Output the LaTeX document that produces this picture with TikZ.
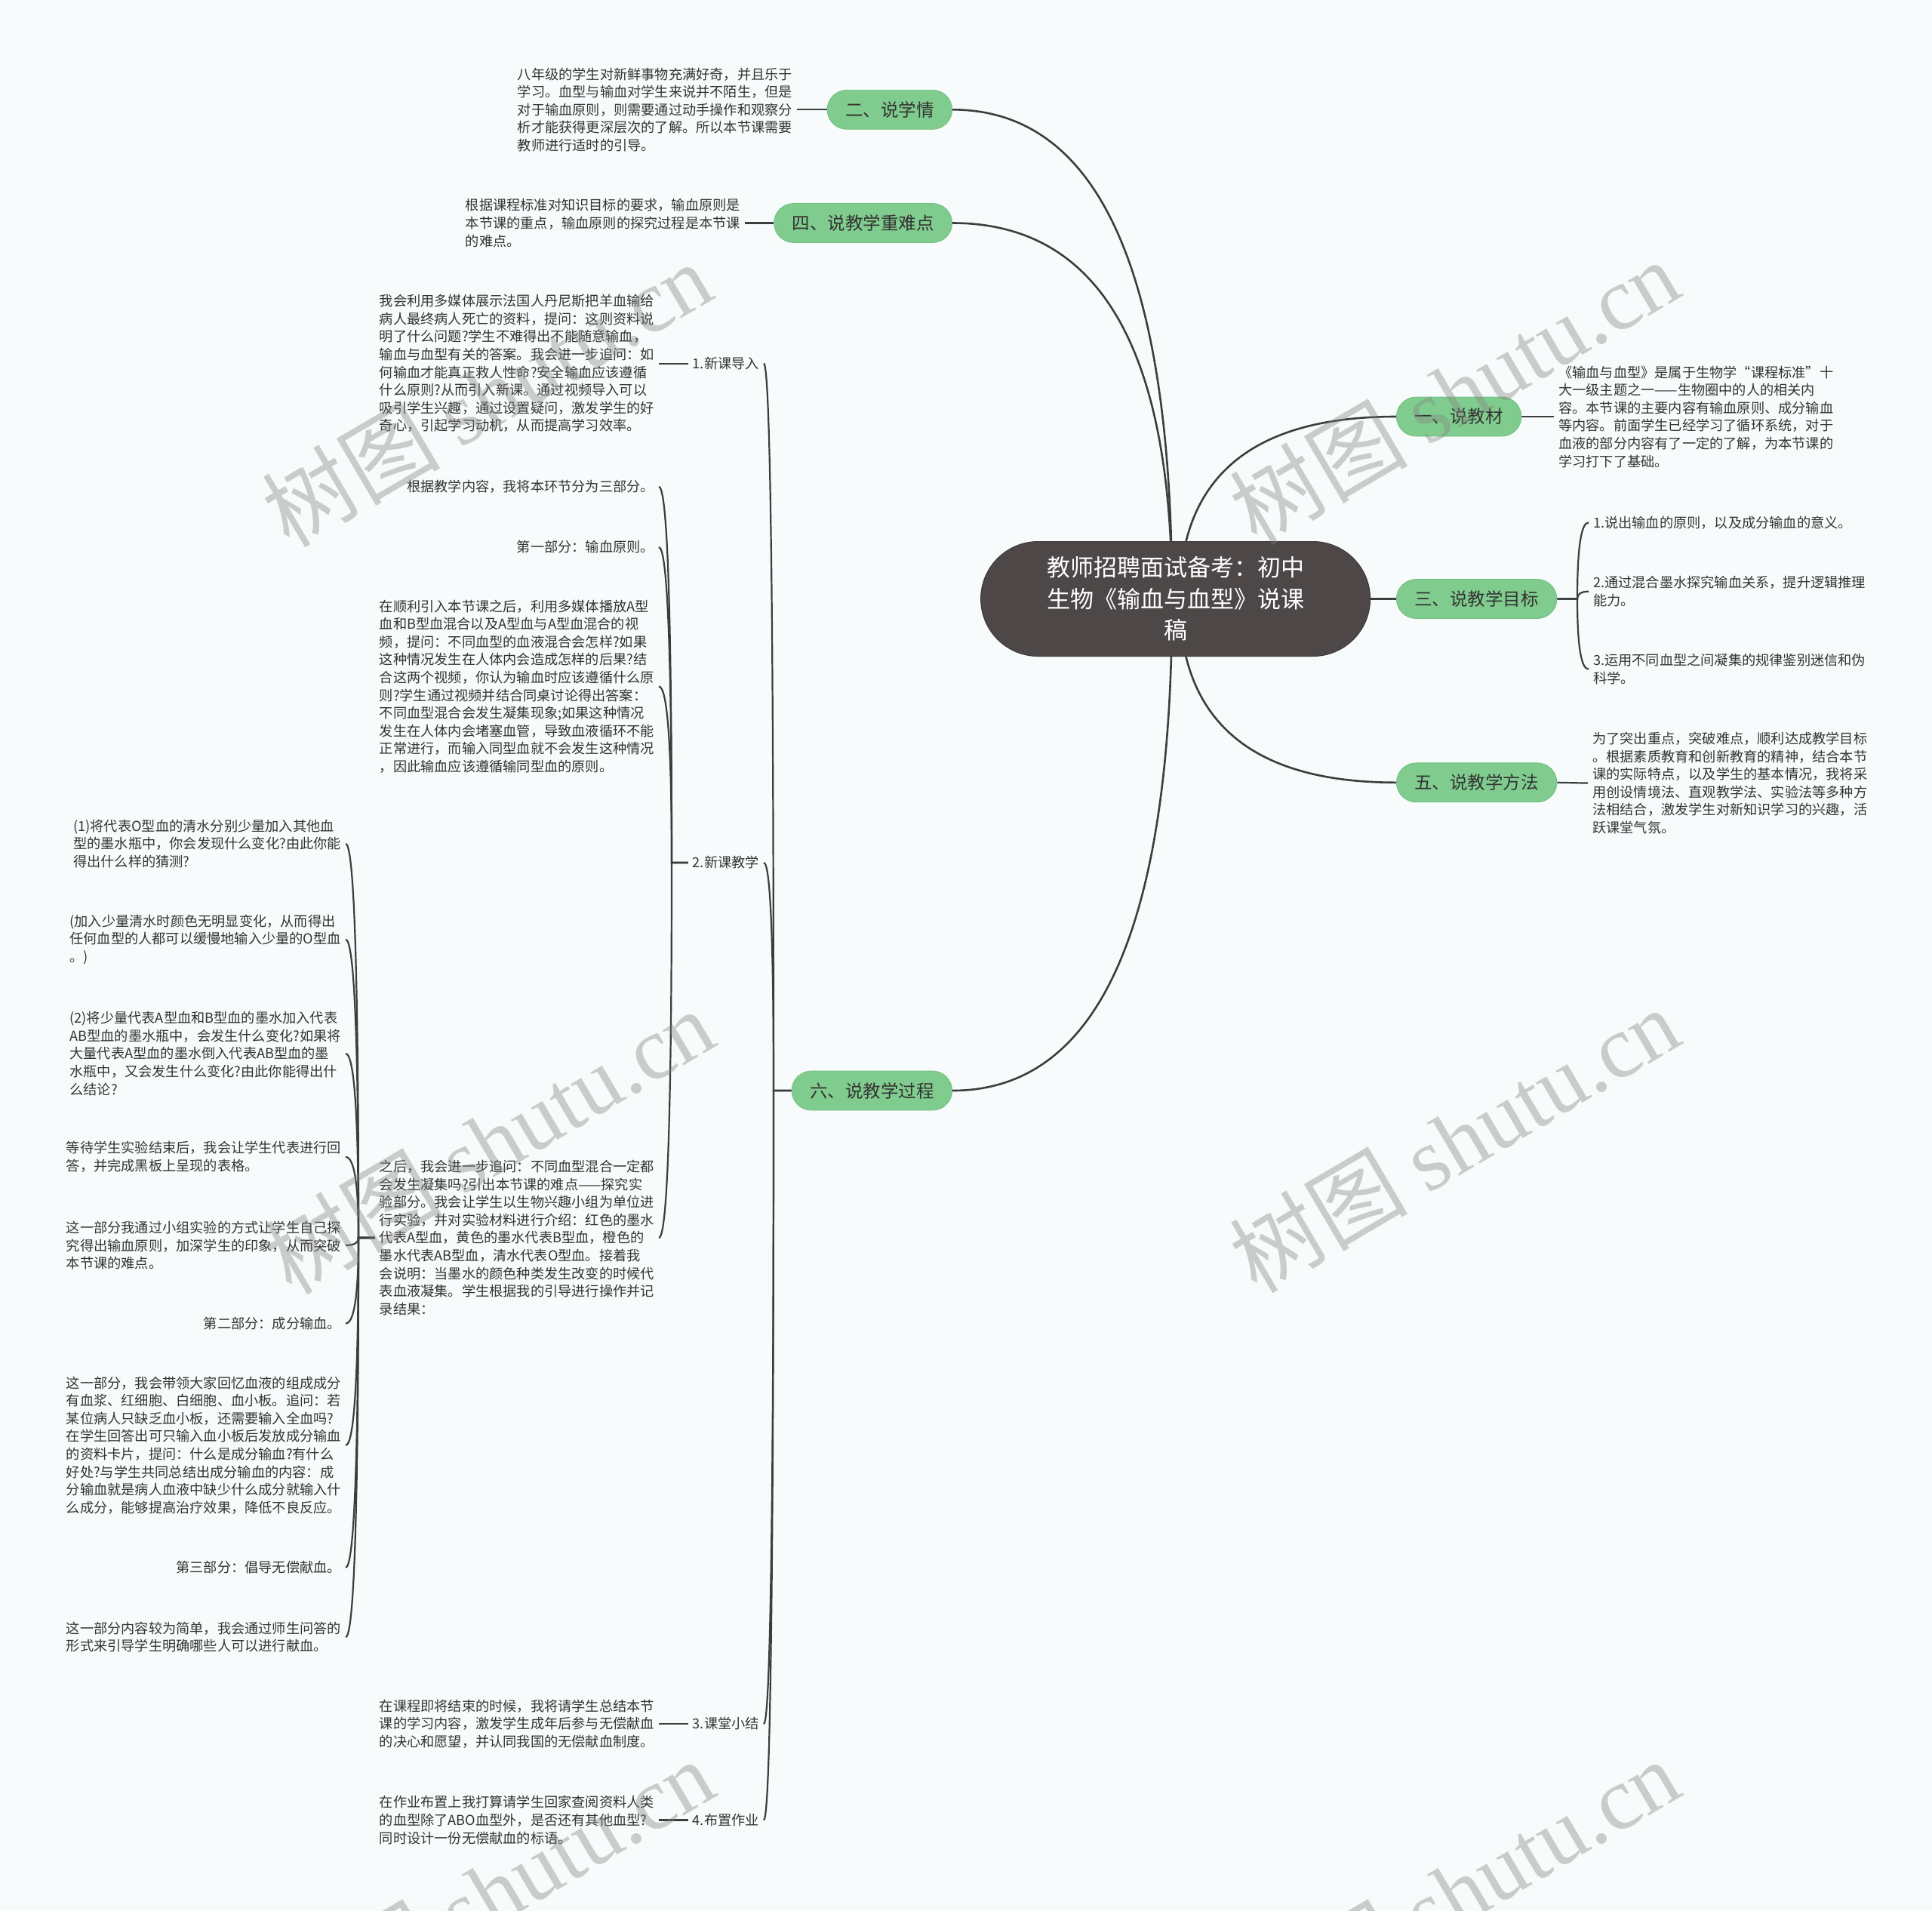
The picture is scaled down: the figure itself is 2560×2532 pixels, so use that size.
\documentclass[tikz,border=0pt]{standalone}
\usepackage{fontspec}
\setmainfont{Noto Sans CJK SC}
\newfontfamily\wmserif{Liberation Serif}
\usetikzlibrary{calc,backgrounds}
\definecolor{bgc}{HTML}{F8FBFC}
\definecolor{linec}{HTML}{3D3D3D}
\definecolor{txt}{HTML}{333333}
\definecolor{greenf}{HTML}{80CC8E}
\definecolor{greend}{HTML}{6FBF7E}
\definecolor{rootf}{HTML}{4D4847}
\definecolor{rootd}{HTML}{3E3A39}
\tikzset{
  qc/.style={to path={.. controls ($(\tikztostart)!0.667!(\tikztostart|-\tikztotarget)$) and ($(\tikztotarget)!0.667!(\tikztostart|-\tikztotarget)$) .. (\tikztotarget)}},
  topic/.style={rectangle, rounded corners=26pt, fill=greenf, draw=greend, line width=0.8pt,
    minimum height=52pt, inner xsep=24pt, inner ysep=0pt, text=txt, font=\fontsize{23.5}{28}\selectfont},
  note/.style={align=left, inner xsep=6pt, inner ysep=3pt, text=txt, font=\fontsize{18.2}{23.6}\selectfont},
  conn/.style={draw=linec, line width=2.2pt},
  mainc/.style={draw=linec, line width=2.6pt},
  wm/.style={text=gray, text opacity=0.38, rotate=30.5, inner sep=0pt, font=\fontsize{118}{130}\selectfont}
}
\begin{document}
\begin{tikzpicture}[x=1pt,y=-1pt]
\useasboundingbox (0,0) rectangle (2560,2532);

% root
\node[rectangle, rounded corners=76pt, minimum width=516pt, minimum height=152pt, fill=rootf, draw=rootd, line width=1pt,
  text=white, align=center, font=\fontsize{31}{41.5}\selectfont] (r) at (1557.6,793.5)
  {教师招聘面试备考：初中\\生物《输血与血型》说课\\稿};
\coordinate (sL) at (1553,793.5);
\coordinate (sR) at (1563,793.5);

% left main topics
\node[topic, anchor=east] (t2) at (1262,145.3) {二、说学情};
\node[topic, anchor=east] (t4) at (1262,295.5) {四、说教学重难点};
\node[topic, anchor=east] (t6) at (1262,1445) {六、说教学过程};

% right main topics
\node[topic, anchor=west] (t1) at (1850,552) {一、说教材};
\node[topic, anchor=west] (t3) at (1850,793.5) {三、说教学目标};
\node[topic, anchor=west] (t5) at (1850,1036.8) {五、说教学方法};

% notes of left topics
\node[note, anchor=east] (n2) at (1056,145.3) {八年级的学生对新鲜事物充满好奇，并且乐于\\学习。血型与输血对学生来说并不陌生，但是\\对于输血原则，则需要通过动手操作和观察分\\析才能获得更深层次的了解。所以本节课需要\\教师进行适时的引导。};
\node[note, anchor=east] (n4) at (987,295.5) {根据课程标准对知识目标的要求，输血原则是\\本节课的重点，输血原则的探究过程是本节课\\的难点。};

% right notes
\node[note, anchor=west] (n1) at (2059,552) {《输血与血型》是属于生物学“课程标准”十\\大一级主题之一——生物圈中的人的相关内\\容。本节课的主要内容有输血原则、成分输血\\等内容。前面学生已经学习了循环系统，对于\\血液的部分内容有了一定的了解，为本节课的\\学习打下了基础。};
\coordinate (b3) at (2090,793.5);
\node[note, anchor=west] (c31) at (2105,692.3) {1.说出输血的原则，以及成分输血的意义。};
\node[note, anchor=west] (c32) at (2105,783.7) {2.通过混合墨水探究输血关系，提升逻辑推理\\能力。};
\node[note, anchor=west] (c33) at (2105,886.6) {3.运用不同血型之间凝集的规律鉴别迷信和伪\\科学。};
\node[note, anchor=west] (n5) at (2104,1037.6) {为了突出重点，突破难点，顺利达成教学目标\\。根据素质教育和创新教育的精神，结合本节\\课的实际特点，以及学生的基本情况，我将采\\用创设情境法、直观教学法、实验法等多种方\\法相结合，激发学生对新知识学习的兴趣，活\\跃课堂气氛。};

% six: teaching process
\coordinate (b6) at (1025,1445);
\node[note, anchor=east] (L1) at (1012,481.6) {1.新课导入};
\node[note, anchor=east] (L2) at (1012,1143) {2.新课教学};
\node[note, anchor=east] (L3) at (1012,2284) {3.课堂小结};
\node[note, anchor=east] (L4) at (1012,2411.5) {4.布置作业};

\node[note, anchor=east] (n61) at (873,481.6) {我会利用多媒体展示法国人丹尼斯把羊血输给\\病人最终病人死亡的资料，提问：这则资料说\\明了什么问题?学生不难得出不能随意输血，\\输血与血型有关的答案。我会进一步追问：如\\何输血才能真正救人性命?安全输血应该遵循\\什么原则?从而引入新课。通过视频导入可以\\吸引学生兴趣，通过设置疑问，激发学生的好\\奇心，引起学习动机，从而提高学习效率。};
\node[note, anchor=east] (n63) at (873,2284) {在课程即将结束的时候，我将请学生总结本节\\课的学习内容，激发学生成年后参与无偿献血\\的决心和愿望，并认同我国的无偿献血制度。};
\node[note, anchor=east] (n64) at (873,2411.5) {在作业布置上我打算请学生回家查阅资料人类\\的血型除了ABO血型外，是否还有其他血型?\\同时设计一份无偿献血的标语。};

\coordinate (b2) at (890,1143);
\node[note, anchor=east] (ka) at (873,645) {根据教学内容，我将本环节分为三部分。};
\node[note, anchor=east] (kb) at (873,725) {第一部分：输血原则。};
\node[note, anchor=east] (kc) at (873,909.5) {在顺利引入本节课之后，利用多媒体播放A型\\血和B型血混合以及A型血与A型血混合的视\\频，提问：不同血型的血液混合会怎样?如果\\这种情况发生在人体内会造成怎样的后果?结\\合这两个视频，你认为输血时应该遵循什么原\\则?学生通过视频并结合同桌讨论得出答案：\\不同血型混合会发生凝集现象;如果这种情况\\发生在人体内会堵塞血管，导致血液循环不能\\正常进行，而输入同型血就不会发生这种情况\\，因此输血应该遵循输同型血的原则。};
\node[note, anchor=east] (kd) at (873,1640) {之后，我会进一步追问：不同血型混合一定都\\会发生凝集吗?引出本节课的难点——探究实\\验部分。我会让学生以生物兴趣小组为单位进\\行实验，并对实验材料进行介绍：红色的墨水\\代表A型血，黄色的墨水代表B型血，橙色的\\墨水代表AB型血，清水代表O型血。接着我\\会说明：当墨水的颜色种类发生改变的时候代\\表血液凝集。学生根据我的引导进行操作并记\\录结果：};

\coordinate (bd) at (475,1640);
\node[note, anchor=east] (e1) at (458,1118) {(1)将代表O型血的清水分别少量加入其他血\\型的墨水瓶中，你会发现什么变化?由此你能\\得出什么样的猜测?};
\node[note, anchor=east] (e2) at (458,1244.7) {(加入少量清水时颜色无明显变化，从而得出\\任何血型的人都可以缓慢地输入少量的O型血\\。)};
\node[note, anchor=east] (e3) at (458,1396) {(2)将少量代表A型血和B型血的墨水加入代表\\AB型血的墨水瓶中，会发生什么变化?如果将\\大量代表A型血的墨水倒入代表AB型血的墨\\水瓶中，又会发生什么变化?由此你能得出什\\么结论?};
\node[note, anchor=east] (e4) at (458,1533) {等待学生实验结束后，我会让学生代表进行回\\答，并完成黑板上呈现的表格。};
\node[note, anchor=east] (e5) at (458,1650) {这一部分我通过小组实验的方式让学生自己探\\究得出输血原则，加深学生的印象，从而突破\\本节课的难点。};
\node[note, anchor=east] (e6) at (458,1753.5) {第二部分：成分输血。};
\node[note, anchor=east] (e7) at (458,1915) {这一部分，我会带领大家回忆血液的组成成分\\有血浆、红细胞、白细胞、血小板。追问：若\\某位病人只缺乏血小板，还需要输入全血吗?\\在学生回答出可只输入血小板后发放成分输血\\的资料卡片，提问：什么是成分输血?有什么\\好处?与学生共同总结出成分输血的内容：成\\分输血就是病人血液中缺少什么成分就输入什\\么成分，能够提高治疗效果，降低不良反应。};
\node[note, anchor=east] (e8) at (458,2077) {第三部分：倡导无偿献血。};
\node[note, anchor=east] (e9) at (458,2169) {这一部分内容较为简单，我会通过师生问答的\\形式来引导学生明确哪些人可以进行献血。};

\begin{pgfonlayer}{background}
\fill[bgc] (0,0) rectangle (2560,2532);
% main curves
\draw[mainc] (sL) to[qc] (t2.east);
\draw[mainc] (sL) to[qc] (t4.east);
\draw[mainc] (sL) to[qc] (t6.east);
\draw[mainc] (sR) to[qc] (t1.west);
\draw[mainc] (sR) to[qc] (t5.west);
\draw[mainc] (r.east) -- (t3.west);
% straight note links
\draw[conn] (n2.east) -- (t2.west);
\draw[conn] (n4.east) -- (t4.west);
\draw[conn] (t1.east) -- (n1.west);
\draw[conn] (t5.east) -- (n5.west);
\draw[conn] (n61.east) -- (L1.west);
\draw[conn] (n63.east) -- (L3.west);
\draw[conn] (n64.east) -- (L4.west);
% bracket of three
\draw[conn] (t3.east) -- (b3) to[qc] (c31.west);
\draw[conn] (t3.east) -- (b3) to[qc] (c32.west);
\draw[conn] (t3.east) -- (b3) to[qc] (c33.west);
% bracket of six
\draw[conn] (t6.west) -- (b6) to[qc] (L1.east);
\draw[conn] (t6.west) -- (b6) to[qc] (L2.east);
\draw[conn] (t6.west) -- (b6) to[qc] (L3.east);
\draw[conn] (t6.west) -- (b6) to[qc] (L4.east);
% bracket of 2.新课教学
\draw[conn] (L2.west) -- (b2) to[qc] (ka.east);
\draw[conn] (L2.west) -- (b2) to[qc] (kb.east);
\draw[conn] (L2.west) -- (b2) to[qc] (kc.east);
\draw[conn] (L2.west) -- (b2) to[qc] (kd.east);
% bracket of experiment node
\draw[conn] (kd.west) -- (bd) to[qc] (e1.east);
\draw[conn] (kd.west) -- (bd) to[qc] (e2.east);
\draw[conn] (kd.west) -- (bd) to[qc] (e3.east);
\draw[conn] (kd.west) -- (bd) to[qc] (e4.east);
\draw[conn] (kd.west) -- (bd) to[qc] (e5.east);
\draw[conn] (kd.west) -- (bd) to[qc] (e6.east);
\draw[conn] (kd.west) -- (bd) to[qc] (e7.east);
\draw[conn] (kd.west) -- (bd) to[qc] (e8.east);
\draw[conn] (kd.west) -- (bd) to[qc] (e9.east);
\end{pgfonlayer}

% watermarks
\node[wm] (w1) at (645,522) {树图 {\wmserif shutu.cn}};
\node[wm] (w2) at (1927,519) {树图 {\wmserif shutu.cn}};
\node[wm] (w3) at (648,1512) {树图 {\wmserif shutu.cn}};
\node[wm] (w4) at (1927,1510) {树图 {\wmserif shutu.cn}};
\node[wm] (w5) at (648,2506) {树图 {\wmserif shutu.cn}};
\node[wm] (w6) at (1927,2506) {树图 {\wmserif shutu.cn}};
\end{tikzpicture}
\end{document}
